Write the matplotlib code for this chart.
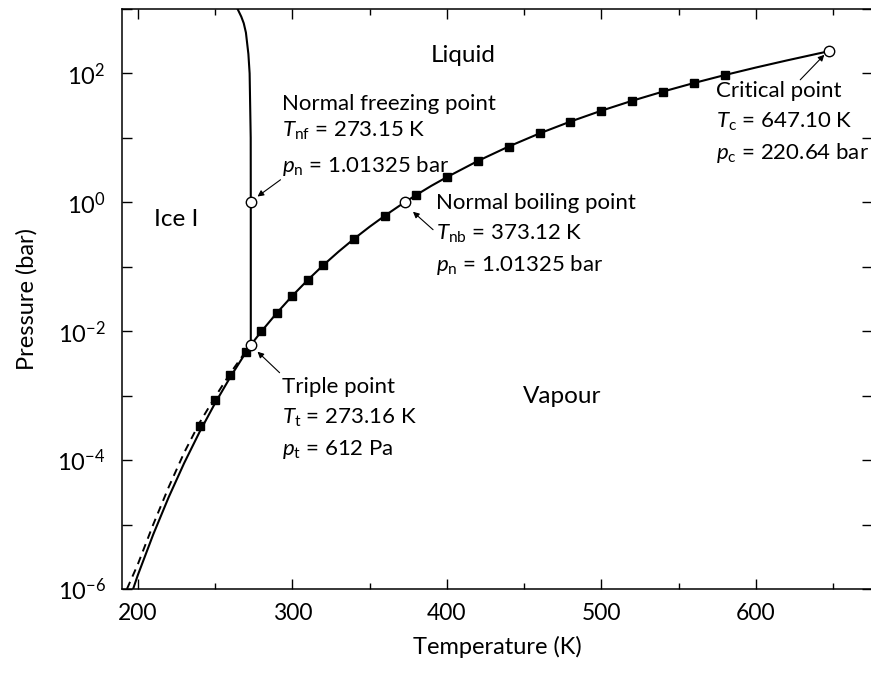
import matplotlib
matplotlib.use("Agg")
import matplotlib.pyplot as plt

plt.rcParams["font.family"] = ["Lato", "DejaVu Sans"]
plt.rcParams["mathtext.fontset"] = "custom"
plt.rcParams["mathtext.rm"] = "Lato"
plt.rcParams["mathtext.it"] = "Lato:italic"
plt.rcParams["mathtext.bf"] = "Lato:bold"
plt.rcParams["font.size"] = 16

# sublimation curve (ice I / vapour), solid
ice_T = [197.0, 200, 210, 220, 230, 240, 250, 260, 270, 273.16]
ice_p = [1.0e-6, 1.63e-6, 7.0e-6, 2.65e-5, 8.95e-5, 2.73e-4, 7.61e-4, 1.96e-3, 4.70e-3, 6.117e-3]

# supercooled liquid vapour pressure, dashed
sc_T = [193.0, 200, 210, 220, 230, 240, 250, 260, 270, 273.16]
sc_p = [1.0e-6, 2.4e-6, 1.0e-5, 3.8e-5, 1.3e-4, 3.8e-4, 9.5e-4, 2.25e-3, 4.9e-3, 6.117e-3]

# vaporisation curve, triple point -> critical point
vap_T = [273.16, 280, 290, 300, 310, 320, 330, 340, 350, 360, 370, 373.12, 380, 390,
         400, 420, 440, 460, 480, 500, 520, 540, 560, 580, 600, 620, 640, 647.10]
vap_p = [0.006117, 0.009918, 0.01920, 0.03537, 0.06231, 0.1055, 0.1721, 0.2719, 0.4168,
         0.6219, 0.9060, 1.01325, 1.2917, 1.8041, 2.4571, 4.373, 7.337, 11.73, 17.91,
         26.39, 37.69, 52.38, 71.08, 94.51, 123.46, 159.0, 202.7, 220.64]

# melting curve (ice I / liquid)
melt_T = [273.16, 273.15, 273.1, 272.4, 271.6, 270.0, 268.6, 267.0, 264.6]
melt_p = [0.006117, 1.01325, 10.0, 100.0, 200.0, 430.0, 600.0, 760.0, 1000.0]

# measured vapour pressures (squares)
meas_T = [240, 250, 260, 270, 280, 290, 300, 310, 320, 340, 360, 380, 400, 420, 440,
          460, 480, 500, 520, 540, 560, 580]
meas_p = [3.4e-4, 8.7e-4, 2.1e-3, 4.7e-3, 9.918e-3, 1.920e-2, 3.537e-2, 6.231e-2, 0.1055,
          0.2719, 0.6219, 1.2917, 2.4571, 4.373, 7.337, 11.73, 17.91, 26.39, 37.69,
          52.38, 71.08, 94.51]

# special points (open circles)
pt_T = [273.16, 273.15, 373.12, 647.10]
pt_p = [0.006117, 1.01325, 1.01325, 220.64]

fig = plt.figure(figsize=(8.71, 6.75), dpi=100)
ax = fig.add_axes([0.1404, 0.1274, 0.8605, 0.8593])

ax.plot(sc_T, sc_p, "--", color="black", lw=1.4, dashes=(4, 3))
ax.plot(ice_T, ice_p, "-", color="black", lw=1.5)
ax.plot(vap_T, vap_p, "-", color="black", lw=1.5)
ax.plot(melt_T, melt_p, "-", color="black", lw=1.5)
ax.plot(meas_T, meas_p, "s", color="black", ms=6, zorder=4)
ax.plot(pt_T, pt_p, "o", mfc="white", mec="black", ms=7.5, mew=1.0, zorder=5)

ax.set_yscale("log")
ax.set_xlim(190, 675)
ax.set_ylim(1e-6, 1e3)

ax.set_xticks([200, 300, 400, 500, 600])
ax.set_xticks([250, 350, 450, 550, 650], minor=True)
yt = [1e-6, 1e-5, 1e-4, 1e-3, 1e-2, 1e-1, 1e0, 1e1, 1e2, 1e3]
ylab = ["$10^{-6}$", "", "$10^{-4}$", "", "$10^{-2}$", "", "$10^{0}$", "", "$10^{2}$", ""]
ax.set_yticks(yt)
ax.set_yticklabels(ylab)
ax.yaxis.set_minor_locator(matplotlib.ticker.NullLocator())
ax.tick_params(which="both", direction="in", top=True, right=True, width=1.0)
ax.tick_params(which="major", length=7, pad=9)
ax.tick_params(which="minor", length=4)
ax.tick_params(axis="y", labelsize=17, pad=12)
ax.tick_params(axis="x", labelsize=16.5, pad=10)
for s in ax.spines.values():
    s.set_linewidth(1.1)

ax.set_xlabel("Temperature (K)", fontsize=17, labelpad=9)
ax.set_ylabel("Pressure (bar)", fontsize=17, labelpad=14)

# region labels
ax.text(410.6, 152, "Liquid", ha="center", va="baseline", fontsize=17.5)
ax.text(224.9, 0.434, "Ice I", ha="center", va="baseline", fontsize=17.5)
ax.text(474.9, 7.76e-4, "Vapour", ha="center", va="baseline", fontsize=17.5)

# annotation blocks
blocks = [
    (293.1, [27.4, 10.4, 2.99],
     ["Normal freezing point", r"$T_{\mathrm{nf}}$ = 273.15 K", r"$p_{\mathrm{n}}$ = 1.01325 bar"],
     (292.4, 2.24), (277.5, 1.23)),
    (393.0, [0.796, 0.263, 0.0869],
     ["Normal boiling point", r"$T_{\mathrm{nb}}$ = 373.12 K", r"$p_{\mathrm{n}}$ = 1.01325 bar"],
     (391.1, 0.376), (378.1, 0.714)),
    (293.1, [1.11e-3, 3.67e-4, 1.21e-4],
     ["Triple point", r"$T_{\mathrm{t}}$ = 273.16 K", r"$p_{\mathrm{t}}$ = 612 Pa"],
     (291.8, 2.27e-3), (277.5, 4.81e-3)),
    (574.2, [43.6, 14.4, 4.75],
     ["Critical point", r"$T_{\mathrm{c}}$ = 647.10 K", r"$p_{\mathrm{c}}$ = 220.64 bar"],
     (628.7, 79.6), (644.3, 194.7)),
]
for x0, ys, lines, tail, head in blocks:
    for y, s in zip(ys, lines):
        ax.text(x0, y, s, ha="left", va="baseline")
    ax.annotate("", xy=head, xytext=tail,
                arrowprops=dict(arrowstyle="-|>", color="black", lw=0.8,
                                mutation_scale=9, shrinkA=0, shrinkB=0))

fig.savefig("out.png", dpi=100)
